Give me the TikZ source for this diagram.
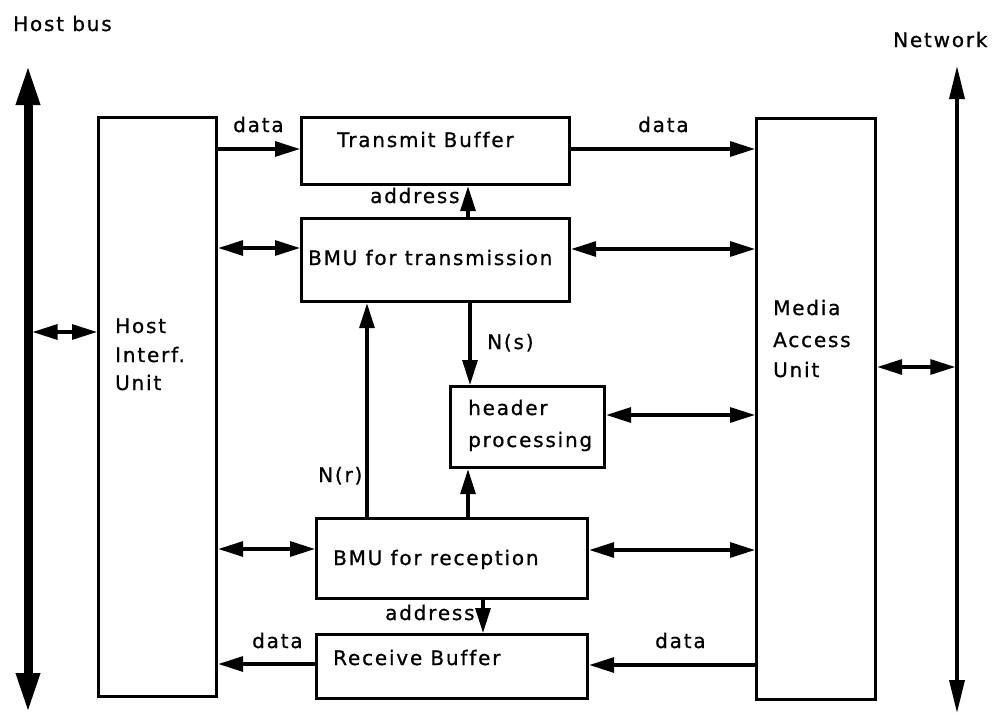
\documentclass[tikz,border=0pt]{standalone}
\usepackage{fontspec}
\setmainfont{DejaVu Sans}[LetterSpace=9,FakeBold=0.8,Ligatures=NoCommon]
\usetikzlibrary{arrows.meta}

\begin{document}
\begin{tikzpicture}[x=1pt,y=-1pt,
  box/.style={draw,line width=3.2pt,inner sep=0pt,anchor=north west},
  txt/.style={anchor=base west,inner sep=0pt,font=\fontsize{20}{24}\selectfont},
  tip/.tip={Triangle[length=25pt,width=15pt]},
  arr/.style={line width=3.2pt,-tip},
  dbl/.style={line width=3.2pt,tip-tip},
  bus/.style={line width=9pt,{Triangle[length=40pt,width=22pt]}-{Triangle[length=40pt,width=22pt]}},
  net/.style={line width=3.5pt,{Triangle[length=33pt,width=15pt]}-{Triangle[length=33pt,width=15pt]}}]

\useasboundingbox (0,0) rectangle (997,715);

% functional blocks
\node[box,minimum width=118pt,minimum height=579pt] (hiu) at (97,116) {};
\node[box,minimum width=119pt,minimum height=581pt] (mau) at (755,117) {};
\node[box,minimum width=268pt,minimum height=67pt]  (tb)  at (300,116) {};
\node[box,minimum width=268pt,minimum height=83pt]  (bt)  at (300,217) {};
\node[box,minimum width=154pt,minimum height=81pt]  (hp)  at (449,385) {};
\node[box,minimum width=271pt,minimum height=80pt]  (br)  at (315,517) {};
\node[box,minimum width=271pt,minimum height=64pt]  (rb)  at (315,633) {};

% buses
\coordinate (busTop) at (28,65);
\coordinate (busBot) at (28,713);
\coordinate (netTop) at (957,66);
\coordinate (netBot) at (957,713);
\draw[bus] (busTop) -- (busBot);
\draw[net] (netTop) -- (netBot);

% block labels
\node[txt] (lHost)  at (13,31)  {Host bus};
\node[txt] (lNet)   at (893,47) {Network};
\node[txt] (lTb)    at (337,147) {Transmit Buffer};
\node[txt] (lBt)    at (308,265) {BMU for transmission};
\node[txt] (lHp1)   at (468,415) {header};
\node[txt] (lHp2)   at (468,447) {processing};
\node[txt] (lBr)    at (333,565) {BMU for reception};
\node[txt] (lRb)    at (333,665) {Receive Buffer};
\node[txt] (lHiu1)  at (115,333) {Host};
\node[txt] (lHiu2)  at (115,362) {Interf.};
\node[txt] (lHiu3)  at (115,390) {Unit};
\node[txt] (lMau1)  at (773,315) {Media};
\node[txt] (lMau2)  at (773,347) {Access};
\node[txt] (lMau3)  at (773,377) {Unit};

% connector labels
\node[txt] (dTx1)  at (233,132) {data};
\node[txt] (dTx2)  at (638,132) {data};
\node[txt] (aTx)   at (370,203) {address};
\node[txt] (ns)    at (487,349) {N(s)};
\node[txt] (nr)    at (318,482) {N(r)};
\node[txt] (aRx)   at (385,620) {address};
\node[txt] (dRx1)  at (252,648) {data};
\node[txt] (dRx2)  at (655,648) {data};

% bus attachments
\draw[dbl,shorten <=4.5pt] (busTop |- 0,332) -- (hiu.west |- 0,332);
\draw[dbl,shorten >=1.75pt] (mau.east |- 0,367) -- (netTop |- 0,367);

% transmit path
\draw[arr] (hiu.east |- 0,149) -- (tb.west |- 0,149);
\draw[arr] (tb.east |- 0,149) -- (mau.west |- 0,149);
\draw[arr] (bt.north -| 468,0) -- (tb.south -| 468,0);
\draw[dbl] (hiu.east |- 0,248) -- (bt.west |- 0,248);
\draw[dbl] (bt.east |- 0,249) -- (mau.west |- 0,249);
\draw[arr] (bt.south -| 470,0) -- (hp.north -| 470,0);
\draw[dbl] (hp.east |- 0,415) -- (mau.west |- 0,415);

% receive path
\draw[arr] (br.north -| 367,0) -- (bt.south -| 367,0);
\draw[arr] (br.north -| 468,0) -- (hp.south -| 468,0);
\draw[dbl] (hiu.east |- 0,549) -- (br.west |- 0,549);
\draw[dbl] (br.east |- 0,550) -- (mau.west |- 0,550);
\draw[arr] (br.south -| 483,0) -- (rb.north -| 483,0);
\draw[arr] (rb.west |- 0,664) -- (hiu.east |- 0,664);
\draw[arr] (mau.west |- 0,665) -- (rb.east |- 0,665);
\end{tikzpicture}
\end{document}
